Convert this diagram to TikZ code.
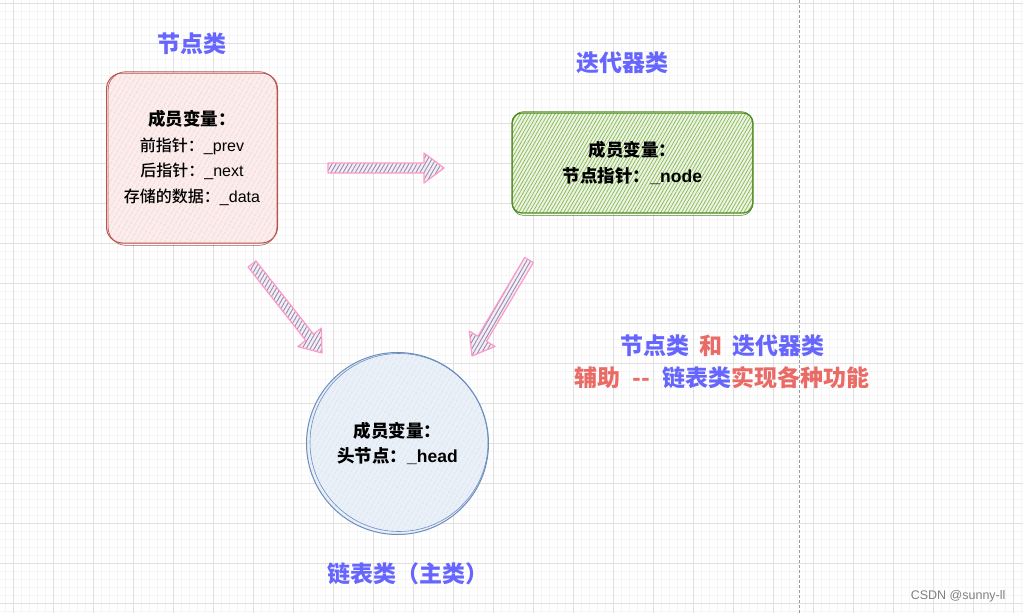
\documentclass[tikz,border=0pt]{standalone}
\usepackage{fontspec}
\setmainfont{Noto Sans CJK SC}
\newfontfamily\latfont{Liberation Sans}
\newfontfamily\medfont{Noto Sans CJK SC Medium}
\usetikzlibrary{calc,patterns.meta}

\definecolor{titleblue}{HTML}{6666FF}
\definecolor{notered}{HTML}{EA6B66}
\definecolor{nodeedge}{HTML}{B85450}
\definecolor{nodefill}{HTML}{FBEDEC}
\definecolor{nodehatch}{HTML}{F2C6C4}
\definecolor{iteredge}{HTML}{4D8A1F}
\definecolor{iterfill}{HTML}{EEF3E8}
\definecolor{iterhatch}{HTML}{8CBF55}
\definecolor{listedge}{HTML}{6C8EBF}
\definecolor{listfill}{HTML}{EAF0F8}
\definecolor{listhatch}{HTML}{CFDCEE}
\definecolor{arrowedge}{HTML}{FF9AC8}
\definecolor{arrowfill}{HTML}{F1EEF4}
\definecolor{arrowhatch}{HTML}{9A8AB0}

\newcommand{\bigbold}{\fontsize{17.5}{25.5}\selectfont\bfseries}

\tikzset{
  minorgrid/.style={draw=black!4, line width=0.5pt},
  majorgrid/.style={draw=black!12, line width=0.6pt},
  classtitle/.style={text=titleblue, font=\fontsize{23}{27}\selectfont\bfseries},
  notetext/.style={text=notered, font=\fontsize{23}{27}\selectfont\bfseries},
  boxtext/.style={align=center, font=\fontsize{16}{25.5}\selectfont},
  nodebox/.style={boxtext, draw=nodeedge, line width=1pt, rounded corners=16pt,
    minimum width=171pt, minimum height=170pt, preaction={fill=nodefill},
    pattern={Lines[angle=60,distance=4pt,line width=0.7pt]}, pattern color=nodehatch},
  iterbox/.style={boxtext, draw=iteredge, line width=1.2pt, rounded corners=10pt,
    minimum width=241pt, minimum height=100pt, preaction={fill=iterfill},
    pattern={Lines[angle=60,distance=3pt,line width=0.8pt]}, pattern color=iterhatch},
  listcirc/.style={boxtext, circle, draw=listedge, line width=1pt, minimum size=182pt,
    preaction={fill=listfill},
    pattern={Lines[angle=60,distance=4pt,line width=0.7pt]}, pattern color=listhatch},
  bigarrow/.style={draw=arrowedge, line width=1.2pt, line join=round,
    preaction={fill=arrowfill},
    pattern={Lines[angle=60,distance=3.5pt,line width=0.9pt]}, pattern color=arrowhatch}
}

% hatched block arrow between two named points
\newcommand{\fatarrow}[2]{%
  \coordinate (hb) at ($(#2)!20pt!(#1)$);
  \draw[bigarrow] ($(#1)!5pt!90:(#2)$) -- ($(hb)!5pt!90:(#2)$) -- ($(hb)!15pt!90:(#2)$)
    -- (#2) -- ($(hb)!15pt!-90:(#2)$) -- ($(hb)!5pt!-90:(#2)$) -- ($(#1)!5pt!-90:(#2)$) -- cycle;
}

\begin{document}
\begin{tikzpicture}[x=1pt,y=-1pt]
    \useasboundingbox (0,0) rectangle (1023,613);
    \fill[white] (0,0) rectangle (1023,613);

    % background grid
    \foreach \gx in {5,13,...,1021} {
        \draw[minorgrid] (\gx,0) -- (\gx,613);
      }
    \foreach \gy in {3,11,...,611} {
        \draw[minorgrid] (0,\gy) -- (1023,\gy);
      }
    \foreach \gx in {13,53,...,1013} {
        \draw[majorgrid] (\gx,0) -- (\gx,613);
      }
    \foreach \gy in {3,43,...,603} {
        \draw[majorgrid] (0,\gy) -- (1023,\gy);
      }
    \draw[black!40, line width=0.7pt, dash pattern=on 3pt off 2pt] (799,0) -- (799,613);

    % node class
    \node[classtitle] (nodetitle) at (192,44) {节点类};
    \node[nodebox] (nodecls) at (192,158)
      {{\bigbold 成员变量：}\\\medfont 前指针：{\latfont\_prev}\\\medfont 后指针：{\latfont\_next}\\
       \medfont 存储的数据：{\latfont\_data}};
    \draw[nodeedge, line width=0.6pt, rounded corners=18pt]
      ($(nodecls.north west)+(2,-1)$) rectangle ($(nodecls.south east)+(-1,2)$);

    % iterator class
    \node[iterbox] (itercls) at (632.5,163)
      {\bigbold 成员变量：\\\bigbold 节点指针：{\latfont\bfseries\_node}};
    \node[classtitle] (itertitle) at (622,63) {迭代器类};
    \draw[iteredge, line width=0.6pt, rounded corners=11pt]
      ($(itercls.north west)+(1,-1)$) rectangle ($(itercls.south east)+(-1,2)$);

    % list class
    \node[listcirc] (listcls) at (397.5,443.5)
      {\bigbold 成员变量：\\\bigbold 头节点：{\latfont\bfseries\_head}};
    \draw[listedge, line width=0.6pt] ($(listcls.center)+(1.5,-1)$) circle[radius=89pt];
    \node[classtitle] (listtitle) at (408,574) {链表类（主类）};

    % arrows
    \coordinate (a1s) at (328,168);
    \coordinate (a1e) at (444,168);
    \coordinate (a2s) at (252,264);
    \coordinate (a2e) at (322,353);
    \coordinate (a3s) at (529,260);
    \coordinate (a3e) at (472,356);
    \fatarrow{a1s}{a1e}
    \fatarrow{a2s}{a2e}
    \fatarrow{a3s}{a3e}

    % note
    \node[notetext] (note1) at (722,346)
      {\textcolor{titleblue}{节点类}\hspace{10pt}和\hspace{10pt}\textcolor{titleblue}{迭代器类}};
    \node[notetext] (note2) at (722,378)
      {辅助\hspace{12pt}-{}-\hspace{12pt}\textcolor{titleblue}{链表类}实现各种功能};

    \node[anchor=east, text=black!50, font=\latfont\fontsize{12.5}{14}\selectfont] (mark) at (1009,596)
      {CSDN @sunny-ll};
  \end{tikzpicture}
\end{document}
